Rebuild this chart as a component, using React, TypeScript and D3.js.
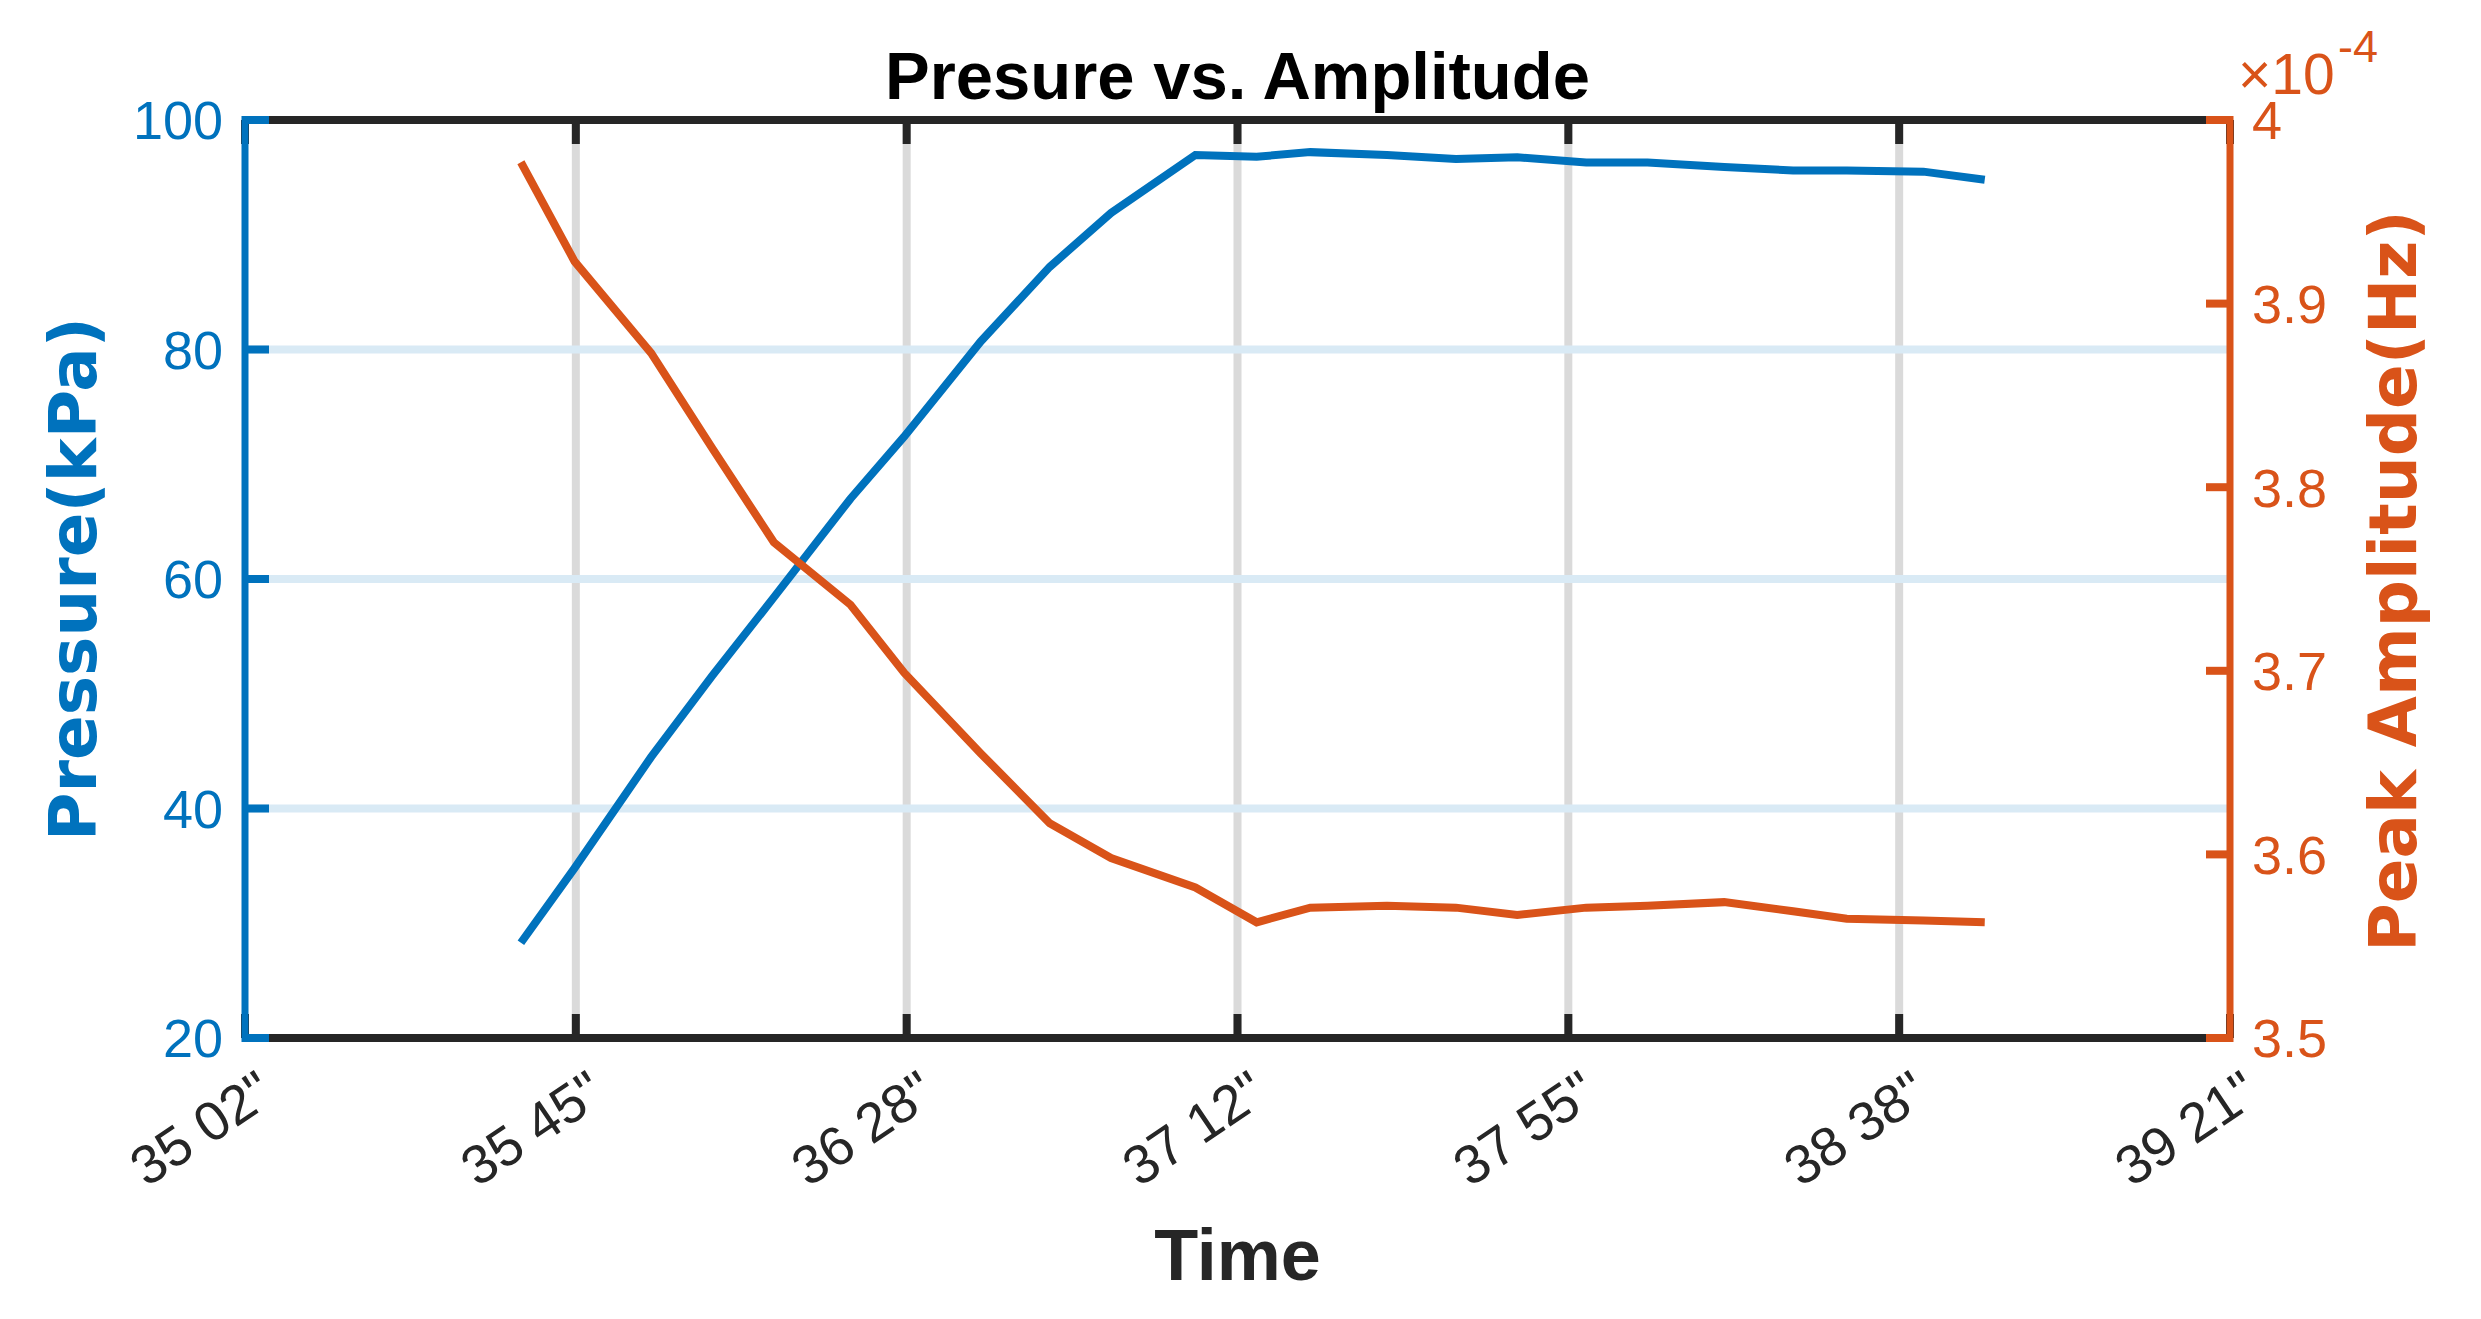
import React from 'react';
import * as d3 from 'd3';

// time of each sample, in seconds (35 38" = 35*60 + 38)
const times = [
  2138, 2145, 2155, 2163, 2171, 2181, 2188, 2198, 2207, 2215, 2226, 2234,
  2241, 2251, 2260, 2268, 2277, 2285, 2295, 2304, 2311, 2321, 2329,
];
// pressure in kPa (left axis)
const pressure = [
  28.3, 34.8, 44.5, 51.6, 58.4, 67.0, 72.4, 80.7, 87.2, 91.9, 96.95, 96.8,
  97.2, 96.95, 96.6, 96.75, 96.3, 96.3, 95.9, 95.6, 95.6, 95.5, 94.8,
];
// peak amplitude, x10^-4 (right axis)
const amplitude = [
  3.977, 3.923, 3.873, 3.821, 3.77, 3.736, 3.699, 3.655, 3.617, 3.598, 3.582, 3.563,
  3.571, 3.572, 3.571, 3.567, 3.571, 3.572, 3.574, 3.569, 3.565, 3.564, 3.563,
];

const xTickLabels = ['35 02"', '35 45"', '36 28"', '37 12"', '37 55"', '38 38"', '39 21"'];
const leftTicks = [20, 40, 60, 80, 100];
const rightTicks = [3.5, 3.6, 3.7, 3.8, 3.9, 4];

const W = 2481;
const H = 1319;
const margin = { left: 245, right: 2230, top: 120, bottom: 1038 };

const BLUE = '#0072BD';
const ORANGE = '#D95319';
const AXIS = '#262626';
const SANS = '"Liberation Sans", Arial, Helvetica, sans-serif';
const LABEL_FONT = '"DejaVu Sans", Verdana, sans-serif';

export default function App() {
  const x = d3.scaleLinear().domain([2102, 2361]).range([margin.left, margin.right]);
  const yP = d3.scaleLinear().domain([20, 100]).range([margin.bottom, margin.top]);
  const yA = d3.scaleLinear().domain([3.5, 4]).range([margin.bottom, margin.top]);

  const [t0, t1] = x.domain();
  const xTicks = xTickLabels.map((_, i) => t0 + (i * (t1 - t0)) / (xTickLabels.length - 1));

  const pressureLine = d3
    .line<number>()
    .x((_, i) => x(times[i]))
    .y((d) => yP(d))(pressure);

  const ampLine = d3
    .line<number>()
    .x((_, i) => x(times[i]))
    .y((d) => yA(d))(amplitude);

  const tickLen = 24;
  const midY = (margin.top + margin.bottom) / 2;

  return (
    <svg
      width={W}
      height={H}
      viewBox={`0 0 ${W} ${H}`}
      style={{ position: 'absolute', left: 0, top: 0, background: '#fff' }}
    >
      <rect x={0} y={0} width={W} height={H} fill="#fff" />

      {/* vertical grid */}
      {xTicks.slice(1, -1).map((t, i) => (
        <line
          key={'gx' + i}
          x1={x(t)}
          x2={x(t)}
          y1={margin.top}
          y2={margin.bottom}
          stroke="#dadada"
          strokeWidth={8}
        />
      ))}
      {/* horizontal grid (left axis) */}
      {leftTicks.slice(1, -1).map((v) => (
        <line
          key={'gy' + v}
          x1={margin.left}
          x2={margin.right}
          y1={yP(v)}
          y2={yP(v)}
          stroke="#d9eaf5"
          strokeWidth={8}
        />
      ))}

      {/* series */}
      <path d={pressureLine || ''} fill="none" stroke={BLUE} strokeWidth={8} />
      <path d={ampLine || ''} fill="none" stroke={ORANGE} strokeWidth={8} />

      {/* top / bottom axes */}
      <line x1={margin.left} x2={margin.right} y1={margin.top} y2={margin.top} stroke={AXIS} strokeWidth={8} />
      <line x1={margin.left} x2={margin.right} y1={margin.bottom} y2={margin.bottom} stroke={AXIS} strokeWidth={8} />
      {xTicks.map((t, i) => (
        <g key={'xt' + i}>
          <line x1={x(t)} x2={x(t)} y1={margin.top} y2={margin.top + tickLen} stroke={AXIS} strokeWidth={8} />
          <line x1={x(t)} x2={x(t)} y1={margin.bottom} y2={margin.bottom - tickLen} stroke={AXIS} strokeWidth={8} />
          <text
            transform={`translate(${x(t) + 32}, ${margin.bottom + 62}) rotate(-34)`}
            textAnchor="end"
            fontFamily={SANS}
            fontSize={55}
            fill={AXIS}
          >
            {xTickLabels[i]}
          </text>
        </g>
      ))}

      {/* left axis */}
      <line x1={margin.left} x2={margin.left} y1={margin.top - 4} y2={margin.bottom + 4} stroke={BLUE} strokeWidth={7} />
      {leftTicks.map((v) => (
        <g key={'lt' + v}>
          <line x1={margin.left} x2={margin.left + tickLen} y1={yP(v)} y2={yP(v)} stroke={BLUE} strokeWidth={8} />
          <text
            x={margin.left - 22}
            y={yP(v)}
            dy="0.36em"
            textAnchor="end"
            fontFamily={SANS}
            fontSize={54}
            fill={BLUE}
          >
            {v}
          </text>
        </g>
      ))}

      {/* right axis */}
      <line x1={margin.right} x2={margin.right} y1={margin.top - 4} y2={margin.bottom + 4} stroke={ORANGE} strokeWidth={7} />
      {rightTicks.map((v) => (
        <g key={'rt' + v}>
          <line x1={margin.right} x2={margin.right - tickLen} y1={yA(v)} y2={yA(v)} stroke={ORANGE} strokeWidth={8} />
          <text
            x={margin.right + 22}
            y={yA(v)}
            dy="0.36em"
            textAnchor="start"
            fontFamily={SANS}
            fontSize={54}
            fill={ORANGE}
          >
            {v === 4 ? '4' : v.toFixed(1)}
          </text>
        </g>
      ))}
      <text x={margin.right + 8} y={94} fontFamily={SANS} fontSize={57} fill={ORANGE}>
        ×10
      </text>
      <text x={margin.right + 108} y={62} fontFamily={SANS} fontSize={45} fill={ORANGE}>
        -4
      </text>

      {/* title and axis labels */}
      <text
        x={(margin.left + margin.right) / 2}
        y={99}
        textAnchor="middle"
        fontFamily={SANS}
        fontWeight="bold"
        fontSize={67}
        fill="#000"
      >
        Presure vs. Amplitude
      </text>
      <text
        x={(margin.left + margin.right) / 2}
        y={1280}
        textAnchor="middle"
        fontFamily={SANS}
        fontWeight="bold"
        fontSize={72}
        fill={AXIS}
      >
        Time
      </text>
      <text
        transform={`translate(96, ${midY}) rotate(-90)`}
        textAnchor="middle"
        fontFamily={LABEL_FONT}
        fontWeight="bold"
        fontSize={66}
        fill={BLUE}
      >
        Pressure(kPa)
      </text>
      <text
        transform={`translate(2416, ${midY + 2}) rotate(-90)`}
        textAnchor="middle"
        fontFamily={LABEL_FONT}
        fontWeight="bold"
        fontSize={66}
        fill={ORANGE}
      >
        Peak Amplitude(Hz)
      </text>
    </svg>
  );
}
